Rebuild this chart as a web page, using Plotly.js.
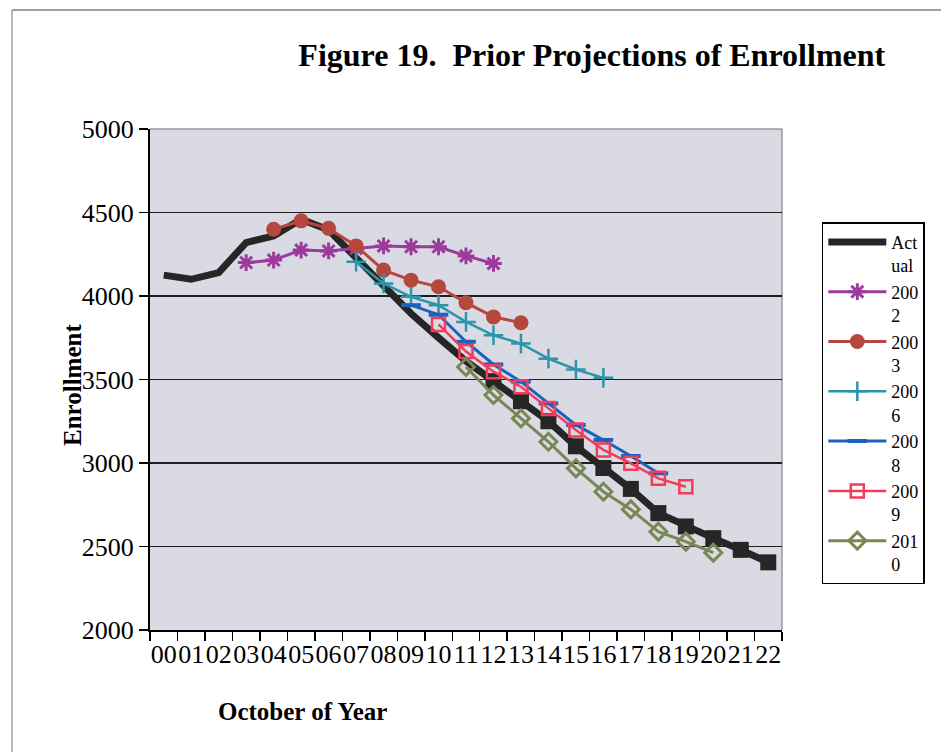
<!DOCTYPE html>
<html><head><meta charset="utf-8">
<script src="https://cdn.plot.ly/plotly-3.0.1.min.js"></script>
<style>html,body{margin:0;padding:0;background:#fff;} #chart{width:941px;height:752px;}</style>
</head><body><div id="chart"></div>
<script>
const years = ["00","01","02","03","04","05","06","07","08","09","10","11","12","13","14","15","16","17","18","19","20","21","22"];
const actual = [4125,4100,4140,4320,4360,4460,4395,4225,4050,3895,3750,3610,3490,3370,3250,3100,2970,2845,2700,2620,2550,2480,2405];
const firstProjectedIndex = 12;
const p2002 = [null,null,null,4200,4215,4275,4270,4285,4300,4295,4295,4240,4195,null,null,null,null,null,null,null,null,null,null];
const p2003 = [null,null,null,null,4400,4450,4405,4300,4155,4095,4055,3960,3875,3840,null,null,null,null,null,null,null,null,null];
const p2006 = [null,null,null,null,null,null,null,4205,4075,3995,3945,3845,3765,3715,3625,3560,3510,null,null,null,null,null,null];
const p2008 = [null,null,null,null,null,null,null,null,null,3945,3888,3726,3590,3487,3357,3228,3138,3042,2938,null,null,null,null];
const p2009 = [null,null,null,null,null,null,null,null,null,null,3830,3667,3547,3457,3327,3198,3078,2998,2908,2858,null,null,null];
const p2010 = [null,null,null,null,null,null,null,null,null,null,null,3575,3407,3267,3127,2968,2828,2722,2589,2529,2463,null,null];
const yTicks = [2000,2500,3000,3500,4000,4500,5000];

const serif = 'Liberation Serif';
const traces = [
  {name:'Act<br>ual', x:years, y:actual, mode:'lines', line:{color:'#262626', width:7}},
  {name:'Actual projected', showlegend:false, x:years, y:actual.map((v,i)=> i>=firstProjectedIndex ? v : null), mode:'markers',
   marker:{symbol:'square', size:16, color:'#262626'}},
  {name:'200<br>2', x:years, y:p2002, mode:'lines+markers', line:{color:'#9c3b9c', width:3},
   marker:{symbol:'asterisk-open', size:14, line:{color:'#9c3b9c', width:3}}},
  {name:'200<br>3', x:years, y:p2003, mode:'lines+markers', line:{color:'#b5473f', width:3},
   marker:{symbol:'circle', size:15, color:'#b5473f'}},
  {name:'200<br>6', x:years, y:p2006, mode:'lines+markers', line:{color:'#2a95ab', width:2.5},
   marker:{symbol:'cross-thin-open', size:14, line:{color:'#2a95ab', width:2.5}}},
  {name:'200<br>8', x:years, y:p2008, mode:'lines+markers', line:{color:'#1c62bd', width:3},
   marker:{symbol:'line-ew-open', size:14, line:{color:'#1c62bd', width:4}}},
  {name:'200<br>9', x:years, y:p2009, mode:'lines+markers', line:{color:'#f23d5a', width:2.5},
   marker:{symbol:'square-open', size:13, line:{color:'#f23d5a', width:2.5}}},
  {name:'201<br>0', x:years, y:p2010, mode:'lines+markers', line:{color:'#7a8755', width:3},
   marker:{symbol:'diamond-open', size:13, line:{color:'#7a8755', width:3}}}
];

const layout = {
  width:941, height:752,
  margin:{l:150, r:159, t:129, b:122},
  paper_bgcolor:'#ffffff', plot_bgcolor:'#dadae4',
  font:{family:serif, color:'#000', size:26},
  title:{text:'<b>Figure 19.\u00a0 Prior Projections of Enrollment</b>', font:{family:serif, size:32, color:'#000'},
         xref:'paper', x:0.699, xanchor:'center', yref:'container', y:0.927, yanchor:'middle'},
  xaxis:{type:'category', tickmode:'linear', dtick:1, tickangle:0, tickson:'boundaries', ticks:'outside', ticklen:9, tickcolor:'#000', tickwidth:1.5,
         showline:true, linecolor:'#000', linewidth:2, showgrid:false, zeroline:false, automargin:false,
         tickfont:{family:serif, size:26, color:'#000'}, range:[-0.5,22.5], fixedrange:true},
  yaxis:{range:[2000,5000], tickmode:'array', tickvals:yTicks, ticks:'outside', ticklen:9, tickcolor:'#000', tickwidth:1.5,
         showline:true, linecolor:'#000', linewidth:2, showgrid:true, gridcolor:'#1e1e1e', gridwidth:1.5, zeroline:false, automargin:false,
         tickfont:{family:serif, size:26, color:'#000'}},
  legend:{x:1.063, xanchor:'left', y:0.814, yanchor:'top', bgcolor:'#ffffff', bordercolor:'#000', borderwidth:1.5,
          font:{family:serif, size:18, color:'#000'}, valign:'top', itemwidth:58, tracegroupgap:0, traceorder:'normal'},
  annotations:[
    {text:'<b>Enrollment</b>', xref:'paper', yref:'paper', x:-0.1234, y:0.489, textangle:-90, showarrow:false,
     font:{family:serif, size:25, color:'#000'}, xanchor:'center', yanchor:'middle'},
    {text:'<b>October of Year</b>', xref:'paper', yref:'paper', x:0.241, y:-0.163, showarrow:false,
     font:{family:serif, size:25, color:'#000'}, xanchor:'center', yanchor:'middle'}
  ],
  shapes:[
    {type:'line', xref:'paper', yref:'paper', x0:0, x1:1, y0:1, y1:1, line:{color:'#9a9a9a', width:1.5}, layer:'below'},
    {type:'line', xref:'paper', yref:'paper', x0:1, x1:1, y0:0, y1:1, line:{color:'#9a9a9a', width:1.5}, layer:'below'},
    {type:'line', xref:'paper', yref:'paper', x0:-0.2184, x1:1.26, y0:1.2375, y1:1.2375, line:{color:'#808080', width:1.5}},
    {type:'line', xref:'paper', yref:'paper', x0:-0.2184, x1:-0.2184, y0:-0.25, y1:1.2375, line:{color:'#a0a0a0', width:1.5}}
  ],
  showlegend:true
};
Plotly.newPlot('chart', traces, layout, {displayModeBar:false, staticPlot:true});
</script></body></html>
